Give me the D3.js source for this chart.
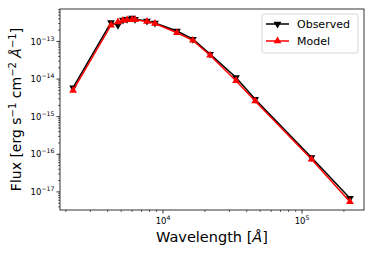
<!DOCTYPE html>
<html>
<head>
<meta charset="utf-8">
<script src="https://cdn.jsdelivr.net/npm/d3@7"></script>
<style>
  body { margin: 0; background: #fff; }
  text { font-family: "DejaVu Sans", sans-serif; }
</style>
</head>
<body>
<div id="chart"></div>
<script>
// wavelengths (Angstrom) and fluxes
const wavelength = [2255, 4227, 4740, 5150, 5510, 5990, 6290, 7670, 8750, 12600, 16400, 21800, 33500, 46000, 117000, 221000];
const observed = [5.9e-15, 3.2e-13, 2.7e-13, 3.7e-13, 3.9e-13, 4.2e-13, 3.9e-13, 3.5e-13, 3.1e-13, 1.9e-13, 1.15e-13, 4.6e-14, 1.1e-14, 2.9e-15, 8.2e-17, 6.8e-18];
const model = [5.0e-15, 2.7e-13, 3.3e-13, 3.6e-13, 3.8e-13, 3.8e-13, 3.8e-13, 3.4e-13, 3.0e-13, 1.7e-13, 1.07e-13, 4.3e-14, 9.0e-15, 2.6e-15, 7.4e-17, 5.5e-18];
const xTicks = [4, 5];
const yTicks = [-17, -16, -15, -14, -13];

const W = 374, H = 254;
const pLeft = 60, pRight = 364, pTop = 9, pBottom = 210;

const svg = d3.select("#chart").append("svg")
  .attr("width", W).attr("height", H);

const x = d3.scaleLog().domain([1816, 279000]).range([pLeft, pRight]);
const y = d3.scaleLog().domain([3.3e-18, 7.3e-13]).range([pBottom, pTop]);

// minor ticks
const xMinor = [];
[1e3, 1e4, 1e5].forEach(d => { for (let k = 2; k < 10; k++) { const v = d * k; if (v > 1816 && v < 279000) xMinor.push(v); } });
const yMinor = [];
for (let e = -18; e <= -13; e++) { for (let k = 2; k < 10; k++) { const v = k * Math.pow(10, e); if (v > 3.3e-18 && v < 7.3e-13) yMinor.push(v); } }

const g = svg.append("g");
g.selectAll(".xmin").data(xMinor).enter().append("line")
  .attr("x1", d => x(d)).attr("x2", d => x(d))
  .attr("y1", pBottom).attr("y2", pBottom + 2)
  .attr("stroke", "#000").attr("stroke-width", 0.6);
g.selectAll(".ymin").data(yMinor).enter().append("line")
  .attr("y1", d => y(d)).attr("y2", d => y(d))
  .attr("x1", pLeft).attr("x2", pLeft - 2)
  .attr("stroke", "#000").attr("stroke-width", 0.6);

g.selectAll(".xmaj").data(xTicks).enter().append("line")
  .attr("x1", d => x(Math.pow(10, d))).attr("x2", d => x(Math.pow(10, d)))
  .attr("y1", pBottom).attr("y2", pBottom + 3.5)
  .attr("stroke", "#000").attr("stroke-width", 0.8);
g.selectAll(".ymaj").data(yTicks).enter().append("line")
  .attr("y1", d => y(Math.pow(10, d))).attr("y2", d => y(Math.pow(10, d)))
  .attr("x1", pLeft).attr("x2", pLeft - 3.5)
  .attr("stroke", "#000").attr("stroke-width", 0.8);

// tick labels
const xl = g.selectAll(".xlab").data(xTicks).enter().append("text")
  .attr("x", d => x(Math.pow(10, d))).attr("y", pBottom + 14)
  .attr("text-anchor", "middle").attr("font-size", 8.5);
xl.append("tspan").text("10");
xl.append("tspan").attr("dy", -4).attr("font-size", 6.2).text(d => d);

const yl = g.selectAll(".ylab").data(yTicks).enter().append("text")
  .attr("x", pLeft - 5.5).attr("y", d => y(Math.pow(10, d)) + 3.2)
  .attr("text-anchor", "end").attr("font-size", 8.5);
yl.append("tspan").text("10");
yl.append("tspan").attr("dy", -4).attr("font-size", 6.2).text(d => "\u2212" + (-d));

// frame
svg.append("rect").attr("x", pLeft).attr("y", pTop)
  .attr("width", pRight - pLeft).attr("height", pBottom - pTop)
  .attr("fill", "none").attr("stroke", "#000").attr("stroke-width", 0.8);

// axis labels
svg.append("text").attr("x", (pLeft + pRight) / 2).attr("y", 242)
  .attr("text-anchor", "middle").attr("font-size", 14.5)
  .html('Wavelength [<tspan font-style="italic">Å</tspan>]');

const ylab = svg.append("text")
  .attr("transform", `translate(21,${(pTop + pBottom) / 2}) rotate(-90)`)
  .attr("text-anchor", "middle").attr("font-size", 14);
ylab.append("tspan").text("Flux [erg s");
ylab.append("tspan").attr("dy", -5.5).attr("font-size", 10).text("\u22121");
ylab.append("tspan").attr("dy", 5.5).text(" cm");
ylab.append("tspan").attr("dy", -5.5).attr("font-size", 10).text("\u22122");
ylab.append("tspan").attr("dy", 5.5).text(" ");
ylab.append("tspan").attr("font-style", "italic").text("Å");
ylab.append("tspan").attr("dy", -5.5).attr("font-size", 10).text("\u22121");
ylab.append("tspan").attr("dy", 5.5).text("]");

// series
const line = d3.line().x(d => x(d[0])).y(d => y(d[1]));
const obsPts = wavelength.map((w, i) => [w, observed[i]]);
const modPts = wavelength.map((w, i) => [w, model[i]]);

const tri = d3.symbol().type(d3.symbolTriangle).size(26);

svg.append("path").datum(obsPts).attr("d", line)
  .attr("fill", "none").attr("stroke", "#000").attr("stroke-width", 1.5);
svg.selectAll(".obs").data(obsPts).enter().append("path")
  .attr("d", tri)
  .attr("transform", d => `translate(${x(d[0])},${y(d[1])}) rotate(180)`)
  .attr("fill", "#000");

svg.append("path").datum(modPts).attr("d", line)
  .attr("fill", "none").attr("stroke", "#ff0000").attr("stroke-width", 1.5);
svg.selectAll(".mod").data(modPts).enter().append("path")
  .attr("d", tri)
  .attr("transform", d => `translate(${x(d[0])},${y(d[1])})`)
  .attr("fill", "#ff0000");

// legend
const lg = svg.append("g");
lg.append("rect").attr("x", 262).attr("y", 14).attr("width", 96).attr("height", 39)
  .attr("rx", 2).attr("fill", "#fff").attr("fill-opacity", 0.8)
  .attr("stroke", "#ccc").attr("stroke-width", 0.8);
const items = [["Observed", "#000", 180, 24], ["Model", "#ff0000", 0, 41]];
items.forEach(([label, c, rot, ly]) => {
  lg.append("line").attr("x1", 266).attr("x2", 289).attr("y1", ly).attr("y2", ly)
    .attr("stroke", c).attr("stroke-width", 1.5);
  lg.append("path").attr("d", tri).attr("transform", `translate(277.5,${ly}) rotate(${rot})`)
    .attr("fill", c);
  lg.append("text").attr("x", 297).attr("y", ly + 4).attr("font-size", 11).text(label);
});
</script>
</body>
</html>
